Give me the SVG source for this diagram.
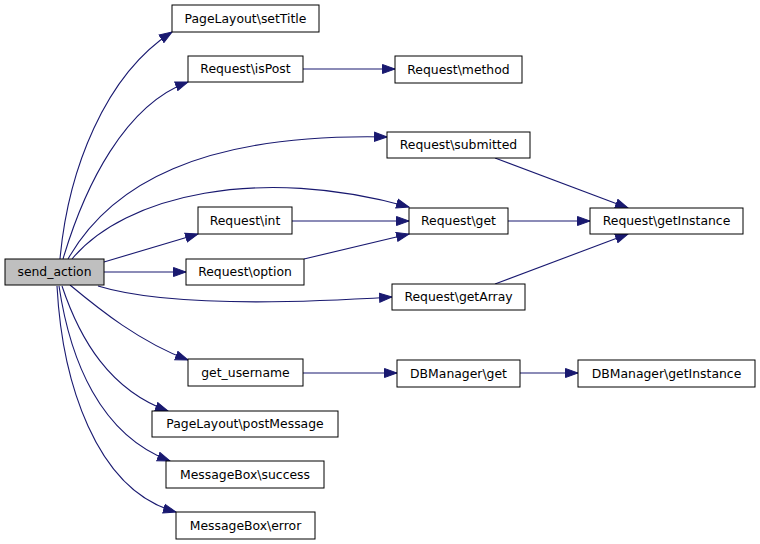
<svg xmlns="http://www.w3.org/2000/svg" width="760" height="544" viewBox="0 0 760 544">
<style>
.n rect{fill:#ffffff;stroke:#000000;stroke-width:1}
.n text{font-family:"DejaVu Sans","Liberation Sans",sans-serif;font-size:12.4px;text-anchor:middle;fill:#000}
#send_action rect{fill:#bfbfbf}
.e path{fill:none;stroke:#191970;stroke-width:1.1;marker-end:url(#ah)}
</style>
<defs>
<marker id="ah" markerUnits="userSpaceOnUse" markerWidth="14" markerHeight="11" refX="13" refY="5" orient="auto" viewBox="0 0 14 10">
<path d="M0.5,0.5 L13,5 L0.5,9.5 Z" fill="#191970" stroke="#191970"/>
</marker>
</defs>
<rect width="760" height="544" fill="#ffffff"/>
<g id="edges" class="e">
<path d="M60,259 C68,170 105,75 172,32"/>
<path d="M63,259 C85,185 125,105 188,82"/>
<path d="M68,259 C110,185 200,133 387,137"/>
<path d="M72,259 C125,195 260,165 409,207"/>
<path d="M104,262 L198,234"/>
<path d="M104,272 L186,272"/>
<path d="M98,286 C150,302 250,306 392,297"/>
<path d="M70,285 C100,310 140,342 188,360"/>
<path d="M62,286 C80,340 110,390 168,411"/>
<path d="M59,286 C70,360 100,435 170,461"/>
<path d="M57,286 C62,380 95,490 176,512"/>
<path d="M303,69 L395,69"/>
<path d="M495,158 L628,208"/>
<path d="M292,221 L409,221"/>
<path d="M304,259 L409,234"/>
<path d="M508,221 L590,221"/>
<path d="M495,284 L628,234"/>
<path d="M303,373 L397,373"/>
<path d="M520,373 L578,373"/>
</g>
<g id="send_action" class="n"><rect x="5" y="259" width="99" height="26"/><text x="54.5" y="276">send_action</text></g>
<g id="setTitle" class="n"><rect x="172" y="5" width="147" height="27"/><text x="245.5" y="23">PageLayout\setTitle</text></g>
<g id="isPost" class="n"><rect x="188" y="56" width="115" height="26"/><text x="245.5" y="73">Request\isPost</text></g>
<g id="method" class="n"><rect x="395" y="56" width="127" height="27"/><text x="458.5" y="74">Request\method</text></g>
<g id="submitted" class="n"><rect x="387" y="132" width="143" height="26"/><text x="458.5" y="149">Request\submitted</text></g>
<g id="int" class="n"><rect x="198" y="207" width="94" height="27"/><text x="245" y="225">Request\int</text></g>
<g id="option" class="n"><rect x="186" y="259" width="118" height="26"/><text x="245" y="276">Request\option</text></g>
<g id="get" class="n"><rect x="409" y="208" width="99" height="26"/><text x="458.5" y="225">Request\get</text></g>
<g id="getInstance" class="n"><rect x="590" y="208" width="153" height="26"/><text x="666.5" y="225">Request\getInstance</text></g>
<g id="getArray" class="n"><rect x="392" y="284" width="133" height="26"/><text x="458.5" y="301">Request\getArray</text></g>
<g id="get_username" class="n"><rect x="188" y="359" width="115" height="27"/><text x="245.5" y="377">get_username</text></g>
<g id="dbget" class="n"><rect x="397" y="360" width="123" height="27"/><text x="458.5" y="378">DBManager\get</text></g>
<g id="dbgetInstance" class="n"><rect x="578" y="360" width="177" height="27"/><text x="666.5" y="378">DBManager\getInstance</text></g>
<g id="postMessage" class="n"><rect x="152" y="411" width="186" height="26"/><text x="245" y="428">PageLayout\postMessage</text></g>
<g id="success" class="n"><rect x="166" y="461" width="158" height="27"/><text x="245" y="479">MessageBox\success</text></g>
<g id="error" class="n"><rect x="176" y="512" width="139" height="27"/><text x="245.5" y="530">MessageBox\error</text></g>
</svg>
